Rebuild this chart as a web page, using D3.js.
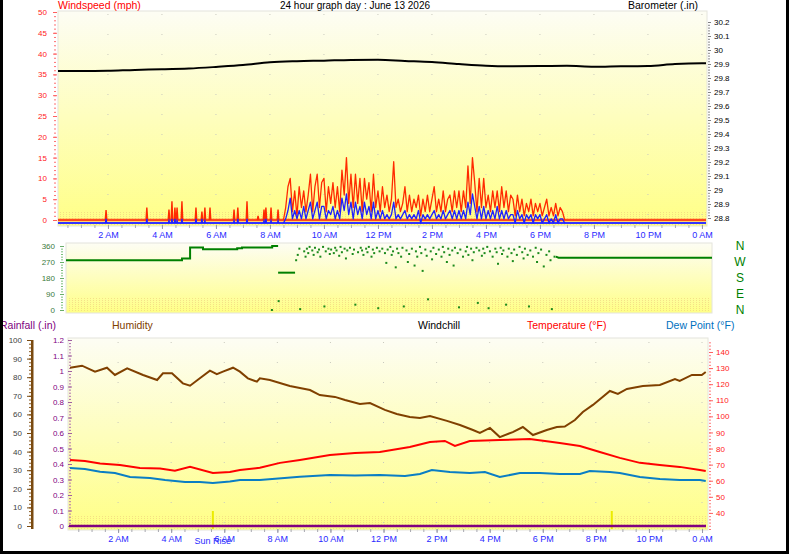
<!DOCTYPE html>
<html lang="en">
<head>
<meta charset="UTF-8">
<title>24 hour graph</title>
<style>
  body { margin:0; background:#fff; }
  svg { display:block; font-family:"Liberation Sans", Arial, sans-serif; }
</style>
</head>
<body>
<script src="https://cdn.jsdelivr.net/npm/d3@7/dist/d3.min.js"></script>
<script>
// ---- data ----
var timeTicks = [2,4,6,8,10,12,14,16,18,20,22,24];
var timeTickLabels = ["2 AM","4 AM","6 AM","8 AM","10 AM","12 PM","2 PM","4 PM","6 PM","8 PM","10 PM","0 AM"];
var dirLabels = ["N","W","S","E","N"];

// barometer (in), [hour, value]
var barometer = [[0.15,29.850],[1,29.850],[2,29.852],[3,29.858],[4,29.862],[5,29.868],[6,29.879],
  [7,29.892],[8,29.912],[9,29.920],[10,29.924],[11,29.929],[12,29.930],[13,29.922],[14,29.914],
  [15,29.900],[16,29.888],[17,29.884],[18,29.885],[19,29.887],[20,29.880],[21,29.884],[22,29.886],
  [23,29.900],[24,29.905],[24.15,29.905]];

// isolated early gusts
var earlyHours = [1.93,3.44,4.26,4.37,4.48,4.56,4.74,5.26,5.48,5.59,5.78,6.67,6.81,7.15,7.56,7.78,7.85,8.04,8.30];
var earlyGust  = [2.4,3,2.5,4.5,3,3,4.5,3,2,3,3,2.5,3,4.5,1,2.5,3,3,2.5];
var earlyAvg   = [1,1,0.5,1,1,0.5,1,1,1,0.5,0,0.5,1,1,0,0.5,1,0.5,0.5];

// 5 minute wind from 8:30 to 18:55 (mph)
var windStartHour = 8.5;
var windGust = [
  0,3,8,10,2,7,
  1,8,3,7,2,6,11,2,8,11,3,9,
  10,2,8,4,9,3,8,2,12,6,15,4,
  11,3,11,4,10,2,10,5,9,2,11,3,
  7,2,8,3,6,2,5,14,3,5,2,4,
  8,2,6,2,5,3,6,1,5,2,6,2,
  5,8,2,5,2,7,2,5,6,2,7,3,
  7,2,7,3,13,4,15,9,2,10,3,10,
  3,6,2,7,3,7,2,8,3,7,2,6,
  5,1,6,2,5,1,4,2,5,1,4,2,
  4,1,3,5,1,3,1,4,1,3,2,0];
var windAvg = [
  0,1,3,6,1,3,
  1,3,1,4,1,3,5,1,3,5,1,4,
  4,1,3,2,4,1,3,1,6,3,7,2,
  5,1,5,2,4,1,5,2,4,1,5,1,
  3,1,3,1,2,1,2,5,1,2,1,2,
  3,1,2,1,2,1,3,0,2,1,2,1,
  2,3,1,2,1,3,1,2,3,1,3,1,
  3,1,3,1,5,2,7,4,1,4,1,4,
  1,3,1,3,1,4,1,3,1,3,1,2,
  2,0,3,1,2,0,2,1,2,0,2,1,
  2,0,1,2,0,1,0,2,0,1,1,0];

// wind direction (degrees)
var dirSegA = [[0.15,280],[4.46,280],[4.46,290],[4.76,290],[4.76,352],[5.24,352],[5.24,342],[6.51,342],
  [6.51,348],[6.69,348],[6.69,352],[7.81,352],[7.81,360],[8.03,360]];
var dirSegB = [[8.03,210],[8.66,210]];
var dirSegC = [[18.35,300],[18.45,294],[24.15,294]];
var dirDots = [[7.80,0],[8.05,50],[8.70,280],[8.76,310],[8.82,345],[8.85,5],
  [9.0,330],[9.05,300],[9.1,345],[9.15,320],[9.2,355],[9.3,335],[9.35,310],[9.4,350],[9.5,325],[9.55,340],
  [9.6,300],[9.7,355],[9.75,20],[9.8,330],[9.9,345],[9.95,315],
  [10.0,340],[10.1,320],[10.15,350],[10.2,335],[10.3,305],[10.35,355],[10.4,325],[10.5,345],[10.55,290],
  [10.6,335],[10.7,350],[10.8,315],[10.85,340],[10.9,30],[11.0,325],
  [11.1,350],[11.15,335],[11.2,310],[11.3,345],[11.35,325],[11.4,355],[11.5,300],[11.55,340],[11.6,320],
  [11.7,350],[11.75,10],[11.8,330],[11.9,345],
  [12.0,320],[12.05,265],[12.1,340],[12.2,355],[12.25,310],[12.3,330],[12.4,240],[12.45,345],[12.5,320],
  [12.6,300],[12.65,350],[12.7,20],[12.8,335],[12.85,270],[12.9,315],
  [13.0,345],[13.1,250],[13.15,330],[13.2,300],[13.3,355],[13.35,320],[13.4,220],[13.5,340],[13.55,305],
  [13.6,60],[13.7,330],[13.75,285],[13.8,350],[13.9,315],
  [14.0,340],[14.1,300],[14.15,355],[14.2,325],[14.3,270],[14.35,345],[14.4,310],[14.5,335],[14.55,250],
  [14.6,350],[14.7,320],[14.75,15],[14.8,340],[14.9,300],
  [15.0,330],[15.05,355],[15.1,310],[15.2,345],[15.25,280],[15.3,325],[15.4,350],[15.45,40],[15.5,335],
  [15.6,305],[15.65,345],[15.7,320],[15.8,355],[15.85,10],[15.9,330],
  [16.0,300],[16.1,345],[16.15,325],[16.2,260],[16.3,350],[16.35,315],[16.4,335],[16.5,30],[16.55,300],
  [16.6,345],[16.7,320],[16.75,275],[16.8,340],[16.9,310],
  [17.0,355],[17.1,325],[17.15,290],[17.2,345],[17.3,310],[17.35,20],[17.4,335],[17.5,300],[17.6,350],
  [17.65,270],[17.7,320],[17.8,340],[17.9,245],
  [18.0,310],[18.1,330],[18.15,280],[18.2,5],[18.3,300]];

// humidity (%)
var humidity = [[0.19,85.1],[0.64,86.2],[1.13,83.0],[1.58,85.1],[1.88,81.2],[2.34,84.8],[2.94,81.2],
  [3.47,78.5],[3.69,82.1],[4.03,82.1],[4.44,76.7],[4.71,75.4],[5.08,79.4],[5.46,83.5],[5.72,81.6],
  [5.95,83.0],[6.33,85.1],[6.59,83.0],[6.89,79.4],[7.23,77.6],[7.34,79.4],[7.72,78.5],[8.47,75.3],
  [8.85,74.2],[9.23,73.1],[9.60,70.4],[10.17,69.4],[10.55,67.7],[11.11,65.6],[11.49,66.1],[12.05,62.4],
  [12.50,60.2],[12.99,58.6],[13.37,58.1],[13.75,59.1],[14.39,56.5],[14.88,54.3],[15.37,51.6],[15.63,50.0],
  [16.01,52.7],[16.38,47.8],[16.87,50.5],[17.25,53.2],[17.63,48.9],[18.15,51.6],[18.53,53.2],[18.83,53.5],
  [19.21,57.0],[19.51,61.3],[19.89,65.1],[20.53,72.6],[20.83,71.0],[21.17,73.7],[21.77,75.3],[22.41,75.8],
  [22.98,79.0],[23.16,78.0],[23.62,81.2],[23.99,81.2],[24.14,82.8]];

// temperature (F)
var temperature = [[0.19,72.9],[0.75,72.2],[1.32,70.7],[2.07,69.8],[2.82,67.9],[3.58,67.6],[4.14,66.2],
  [4.71,68.6],[5.57,64.8],[6.21,65.4],[6.59,66.6],[7.34,68.1],[8.10,71.1],[8.85,72.9],[9.98,76.0],
  [10.92,77.3],[11.86,77.9],[12.99,81.0],[13.75,84.1],[14.31,84.7],[14.69,81.6],[15.25,84.7],[16.38,85.3],
  [17.51,86.0],[18.08,84.7],[18.64,83.5],[19.40,81.6],[20.15,77.9],[20.90,74.2],[21.66,71.1],[22.41,69.8],
  [23.16,68.6],[23.92,66.7],[24.14,66.0]];

// dew point (F)
var dewPoint = [[0.19,67.9],[0.75,67.3],[1.32,65.6],[1.88,64.8],[2.45,62.3],[3.20,61.7],[3.77,60.4],
  [4.52,59.2],[5.08,59.2],[5.57,58.6],[6.21,59.5],[6.59,60.4],[7.34,60.4],[8.85,62.5],[9.98,63.6],
  [10.92,63.2],[11.86,63.6],[12.81,62.9],[13.37,64.2],[13.82,66.6],[14.50,65.4],[15.25,64.8],[15.82,65.4],
  [16.38,62.3],[17.14,64.8],[17.89,64.8],[18.64,64.2],[19.40,64.2],[19.77,66.0],[20.53,65.4],[20.90,64.8],
  [21.66,62.3],[22.41,61.1],[23.16,60.4],[23.92,60.4],[24.14,59.8]];

// rainfall (in)
var rainfall = [[0.15,0],[24.15,0]];

var sunRise = 5.57, sunSet = 20.6;

// ---- drawing ----
var svg = d3.select("body").append("svg").attr("width", 798).attr("height", 554);
var defs = svg.append("defs");
var grad = defs.append("linearGradient").attr("id","bg").attr("x1",0).attr("y1",0).attr("x2",0).attr("y2",1);
grad.append("stop").attr("offset","0%").attr("stop-color","#fdfdf4");
grad.append("stop").attr("offset","100%").attr("stop-color","#ffff86");
var pat = defs.append("pattern").attr("id","dots").attr("width",3).attr("height",2)
  .attr("patternUnits","userSpaceOnUse");
pat.append("rect").attr("width",1).attr("height",1).attr("fill","#ecc97a");

function panel(x0, x1, y0, y1) {
  svg.append("rect").attr("x",x0).attr("y",y0).attr("width",x1-x0).attr("height",y1-y0)
    .attr("fill","url(#bg)").attr("stroke","#e4e4dc");
  svg.append("rect").attr("x",x0+1).attr("y",y1-15).attr("width",x1-x0-2).attr("height",14)
    .attr("fill","url(#dots)").attr("opacity",0.55);
}

function vgrid(x, y0, y1) {
  svg.append("g").selectAll("line").data(timeTicks).enter().append("line")
    .attr("x1",function(d){return x(d);}).attr("x2",function(d){return x(d);})
    .attr("y1",y0).attr("y2",y1)
    .attr("stroke","#c9c9bd").attr("stroke-dasharray","1,19");
}

function timeAxis(x, y) {
  var minor = svg.append("g").attr("transform","translate(0,"+y+")")
    .call(d3.axisBottom(x).tickValues(d3.range(0.5,24.1,0.5)).tickSize(3).tickFormat(""));
  minor.select(".domain").remove();
  minor.selectAll("line").attr("stroke","#a8a8b0");
  var g = svg.append("g").attr("transform","translate(0,"+y+")")
    .call(d3.axisBottom(x).tickValues(timeTicks).tickSize(4).tickPadding(3)
      .tickFormat(function(d,i){return timeTickLabels[i];}));
  g.select(".domain").remove();
  g.selectAll("line").attr("stroke","#9898a8");
  g.selectAll("text").attr("fill","#2a2aff").style("font-size","9px").attr("font-family",null);
  return g;
}

function styleAxis(g, tickColor, textColor, size) {
  g.select(".domain").remove();
  g.selectAll("line").attr("stroke",tickColor);
  g.selectAll("text").attr("fill",textColor).style("font-size",size||"8px").attr("font-family",null);
}

function label(x, y, txt, color, size, anchor) {
  svg.append("text").attr("x",x).attr("y",y).text(txt).attr("fill",color)
    .style("font-size",size).attr("text-anchor",anchor||"start");
}

// ===== top panel: windspeed + barometer =====
var xTop = d3.scaleLinear().domain([0.15,24.15]).range([58,706]);
var windY = d3.scaleLinear().domain([0,50]).range([220,12]);
var baroY = d3.scaleLinear().domain([28.8,30.2]).range([218,22]);

panel(58, 707, 11, 226);
vgrid(xTop, 14, 224);

label(58, 9, "Windspeed (mph)", "#ff0000", "10.5px");
label(355, 9, "24 hour graph day : June 13 2026", "#000000", "10px", "middle");
label(698, 9, "Barometer (.in)", "#000000", "10.5px", "end");

var wMinor = svg.append("g").attr("transform","translate(56,0)")
  .call(d3.axisLeft(windY).tickValues(d3.range(0,51,1)).tickSize(2).tickFormat(""));
styleAxis(wMinor, "#ff7070");
var wMajor = svg.append("g").attr("transform","translate(57,0)")
  .call(d3.axisLeft(windY).tickValues(d3.range(0,51,5)).tickSize(4).tickPadding(6));
styleAxis(wMajor, "#ff6060", "#ff2020");

var bMinor = svg.append("g").attr("transform","translate(708,0)")
  .call(d3.axisRight(baroY).tickValues(d3.range(0,71,1).map(function(i){return 28.8+i*0.02;}))
    .tickSize(2).tickFormat(""));
styleAxis(bMinor, "#8a8a8a");
var bMajor = svg.append("g").attr("transform","translate(708,0)")
  .call(d3.axisRight(baroY).tickValues(d3.range(0,15,1).map(function(i){return 28.8+i*0.1;}))
    .tickSize(3).tickPadding(3).tickFormat(function(d){return +d.toFixed(1);}));
styleAxis(bMajor, "#808080", "#000000");

timeAxis(xTop, 225);

// wind baselines
svg.append("line").attr("x1",xTop(0.15)).attr("x2",xTop(24.15)).attr("y1",windY(0)).attr("y2",windY(0))
  .attr("stroke","#ff4a1a").attr("stroke-width",2.5);
svg.append("line").attr("x1",xTop(0.15)).attr("x2",xTop(24.15)).attr("y1",windY(0)+3).attr("y2",windY(0)+3)
  .attr("stroke","#3434ff").attr("stroke-width",2);

var windHour = function(d,i){ return windStartHour + i/12; };
var gustLine = d3.line().x(function(d,i){return xTop(windHour(d,i));}).y(function(d){return windY(d);});
var avgLine = d3.line().x(function(d,i){return xTop(windHour(d,i));}).y(function(d){return windY(d)+3;});

var spike = d3.line().x(function(d){return xTop(d[0]);}).y(function(d){return d[1];});
earlyHours.forEach(function(h,i){
  svg.append("path").attr("d", spike([[h-0.03,windY(0)],[h,windY(earlyGust[i])],[h+0.03,windY(0)]]))
    .attr("fill","none").attr("stroke","#ff2a00").attr("stroke-width",1.4);
});
svg.append("path").datum(windGust).attr("d",gustLine).attr("fill","none")
  .attr("stroke","#ff2a00").attr("stroke-width",1.3).attr("stroke-linejoin","round");
earlyHours.forEach(function(h,i){
  if (earlyAvg[i] <= 0) return;
  svg.append("path").attr("d", spike([[h-0.02,windY(0)+3],[h,windY(earlyAvg[i])+3],[h+0.02,windY(0)+3]]))
    .attr("fill","none").attr("stroke","#2020ff").attr("stroke-width",1.4);
});
svg.append("path").datum(windAvg).attr("d",avgLine).attr("fill","none")
  .attr("stroke","#2020ff").attr("stroke-width",1.3).attr("stroke-linejoin","round");

var baroLine = d3.line().x(function(d){return xTop(d[0]);}).y(function(d){return baroY(d[1]);})
  .curve(d3.curveMonotoneX);
svg.append("path").datum(barometer).attr("d",baroLine).attr("fill","none")
  .attr("stroke","#000").attr("stroke-width",2);

// ===== middle panel: wind direction =====
var xMid = d3.scaleLinear().domain([0.15,24.15]).range([66,712]);
var dirY = d3.scaleLinear().domain([0,360]).range([310,246]);
panel(66, 712, 243, 313);

var dMinor = svg.append("g").attr("transform","translate(63,0)")
  .call(d3.axisLeft(dirY).tickValues(d3.range(0,361,15)).tickSize(2).tickFormat(""));
styleAxis(dMinor, "#7cbf7c");
var dMajor = svg.append("g").attr("transform","translate(64,0)")
  .call(d3.axisLeft(dirY).tickValues([0,90,180,270,360]).tickSize(4).tickPadding(5));
styleAxis(dMajor, "#6aae6a", "#3c7a3c");

svg.append("g").selectAll("text").data(dirLabels).enter().append("text")
  .attr("x",740).attr("y",function(d,i){return dirY(360 - i*90)+4;})
  .attr("text-anchor","middle").attr("fill","#008000").style("font-size","12px")
  .text(function(d){return d;});

var dirLine = d3.line().x(function(d){return xMid(d[0]);}).y(function(d){return dirY(d[1]);});
[dirSegA, dirSegB, dirSegC].forEach(function(seg){
  svg.append("path").datum(seg).attr("d",dirLine).attr("fill","none")
    .attr("stroke","#008000").attr("stroke-width",2);
});
svg.append("g").selectAll("rect").data(dirDots).enter().append("rect")
  .attr("x",function(d){return xMid(d[0])-1;}).attr("y",function(d){return dirY(d[1])-1;})
  .attr("width",2).attr("height",2).attr("fill","#1c8a1c");

// ===== bottom panel =====
var xBot = d3.scaleLinear().domain([0.15,24.15]).range([69,706]);
var rainY = d3.scaleLinear().domain([0,1.2]).range([526,340]);
var humY = d3.scaleLinear().domain([0,100]).range([526,340]);
var tempY = d3.scaleLinear().domain([30,147.45]).range([529,340]);

panel(68, 708, 338, 530);
vgrid(xBot, 342, 528);

label(0, 329, "Rainfall (.in)", "#800080", "10.5px");
label(112, 329, "Humidity", "#804000", "10.5px");
label(418, 329, "Windchill", "#000000", "10.5px");
label(527, 329, "Temperature (°F)", "#ff0000", "10.5px");
label(666, 329, "Dew Point (°F)", "#0070c0", "10.5px");

// humidity outer axis
svg.append("rect").attr("x",31).attr("y",340).attr("width",2.5).attr("height",189).attr("fill","#7a4a10");
var hMinor = svg.append("g").attr("transform","translate(31,0)")
  .call(d3.axisLeft(humY).tickValues(d3.range(0,101,2)).tickSize(2).tickFormat(""));
styleAxis(hMinor, "#8a5a20");
var hMajor = svg.append("g").attr("transform","translate(31,0)")
  .call(d3.axisLeft(humY).tickValues(d3.range(0,101,10)).tickSize(4).tickPadding(5));
styleAxis(hMajor, "#7a4a10", "#404040");

// rainfall inner axis
var rMinor = svg.append("g").attr("transform","translate(71,0)")
  .call(d3.axisLeft(rainY).tickValues(d3.range(0,61,1).map(function(i){return i*0.02;}))
    .tickSize(2).tickFormat(""));
styleAxis(rMinor, "#b070b0");
var rMajor = svg.append("g").attr("transform","translate(72,0)")
  .call(d3.axisLeft(rainY).tickValues(d3.range(0,13,1).map(function(i){return i*0.1;}))
    .tickSize(4).tickPadding(4).tickFormat(function(d){return +d.toFixed(1);}));
styleAxis(rMajor, "#a060a0", "#800080");

// temperature right axis
var tMinor = svg.append("g").attr("transform","translate(709,0)")
  .call(d3.axisRight(tempY).tickValues(d3.range(30,148,2)).tickSize(2).tickFormat(""));
styleAxis(tMinor, "#ff7a7a");
var tMajor = svg.append("g").attr("transform","translate(709,0)")
  .call(d3.axisRight(tempY).tickValues(d3.range(40,141,10)).tickSize(4).tickPadding(3));
styleAxis(tMajor, "#ff6060", "#ff2020");

timeAxis(xBot, 529);

// sun markers
[sunRise, sunSet].forEach(function(h){
  svg.append("line").attr("x1",xBot(h)).attr("x2",xBot(h)).attr("y1",511).attr("y2",529)
    .attr("stroke","#ecec00").attr("stroke-width",2);
});
label(xBot(sunRise), 544, "Sun Rise", "#2a2aff", "9px", "middle");

var hourLine = function(y){
  return d3.line().x(function(d){return xBot(d[0]);}).y(function(d){return y(d[1]);});
};
svg.append("path").datum(rainfall).attr("d",hourLine(rainY)).attr("fill","none")
  .attr("stroke","#800080").attr("stroke-width",2.5);
svg.append("path").datum(dewPoint).attr("d",hourLine(tempY)).attr("fill","none")
  .attr("stroke","#0a7ec4").attr("stroke-width",2);
svg.append("path").datum(temperature).attr("d",hourLine(tempY)).attr("fill","none")
  .attr("stroke","#ff0000").attr("stroke-width",2);
svg.append("path").datum(humidity).attr("d",hourLine(humY)).attr("fill","none")
  .attr("stroke","#804000").attr("stroke-width",2);

// frame
svg.append("rect").attr("x",0).attr("y",0).attr("width",3).attr("height",554).attr("fill","#000");
svg.append("rect").attr("x",786).attr("y",0).attr("width",3).attr("height",554).attr("fill","#000");
svg.append("rect").attr("x",0).attr("y",551).attr("width",789).attr("height",3).attr("fill","#000");
</script>
</body>
</html>
